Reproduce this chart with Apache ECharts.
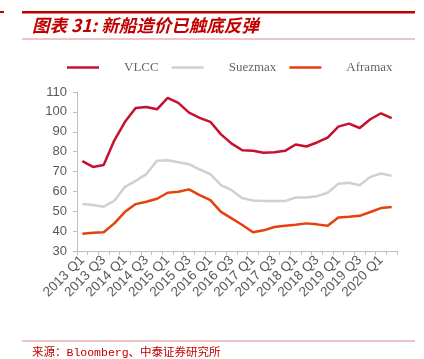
<!DOCTYPE html>
<html><head><meta charset="utf-8">
<script src="https://cdn.jsdelivr.net/npm/echarts@6/dist/echarts.min.js"></script>
<style>html,body{margin:0;padding:0;background:#fff}#c{width:424px;height:359px}</style>
</head><body><div id="c"></div>
<script>
var categories = [];
(function(){ for (var y = 2013; y <= 2020; y++) for (var q = 1; q <= 4; q++) { if (y === 2020 && q > 2) break; categories.push(y + ' Q' + q); } })();
var vlcc = [75.2,72.3,73.3,85.7,95,102,102.5,101.3,107,104.5,99.6,97,95,88.7,84,80.7,80.4,79.4,79.7,80.4,83.6,82.6,84.6,87.1,92.6,94.1,91.9,96.3,99.3,96.8];
var suezmax = [53.6,53.1,52.3,55.3,62.3,65.3,68.7,75.4,75.7,74.7,73.7,71,68.7,63.1,60.6,56.6,55.4,55.1,55.1,55.1,56.9,56.9,57.6,59.3,63.8,64.3,63.1,67.3,69,67.8];
var aframax = [38.7,39.2,39.4,43.9,49.7,53.6,54.8,56.3,59.3,59.8,61,58.1,55.6,49.7,46.4,43.1,39.4,40.4,42.1,42.7,43.2,43.9,43.4,42.7,46.9,47.2,47.7,49.6,51.6,52.1];
var seriesNames = ['VLCC','Suezmax','Aframax'];
var yTicks = {min:30, max:110, interval:10};
var titleText = '图表 31: 新船造价已触底反弹';
var sourceText = '来源：Bloomberg、中泰证券研究所';

var chart = echarts.init(document.getElementById('c'), null, {renderer:'canvas'});
var colors = ['#C8102E','#D0D0D0','#E5400E'];
function mk(name, data, i){
  return {name:name, type:'line', data:data, symbol:'none', smooth:false,
    lineStyle:{width:2.5, color:colors[i]}, itemStyle:{color:colors[i]}};
}
chart.setOption({
  animation:false,
  color: colors,
  graphic:[
    {type:'rect', shape:{x:0,y:11,width:4,height:2}, style:{fill:'#C00000'}},
    {type:'rect', shape:{x:22,y:11,width:393,height:2.5}, style:{fill:'#C00000'}},
    {type:'rect', shape:{x:22,y:38.5,width:393,height:1}, style:{fill:'#E08A8A'}},
    {type:'text', left:32, top:17, style:{text:titleText, fill:'#C00000', font:'italic bold 17.5px "Noto Sans CJK SC", sans-serif'}},
    {type:'rect', shape:{x:22,y:340.5,width:393,height:1}, style:{fill:'#E08A8A'}},
    {type:'text', left:32, top:347, style:{text:sourceText, fill:'#C00000', font:'11.5px "Liberation Mono", "Noto Sans CJK SC", monospace'}}
  ],
  legend:{
    data: seriesNames.map(function(n,i){ return {name:n, icon:'rect'}; }),
    left:62, top:56, itemWidth:32, itemHeight:2.5, itemGap:13,
    textStyle:{fontFamily:'"Liberation Serif", serif', fontSize:13, color:'#666', padding:[0,0,0,20]}
  },
  grid:{left:77, right:27, top:92, bottom:108, containLabel:false},
  xAxis:{
    type:'category', data:categories, boundaryGap:true,
    axisLine:{lineStyle:{color:'#BFBFBF', width:1}},
    axisTick:{show:true, interval:0, length:4, lineStyle:{color:'#BFBFBF'}},
    axisLabel:{interval:1, rotate:45, color:'#595959', fontSize:13.5, fontFamily:'"Liberation Sans", Arial, sans-serif', margin:7}
  },
  yAxis:{
    type:'value', min:yTicks.min, max:yTicks.max, interval:yTicks.interval,
    axisLine:{show:true, lineStyle:{color:'#BFBFBF', width:1}},
    axisTick:{show:true, length:4, inside:false, lineStyle:{color:'#BFBFBF'}},
    splitLine:{show:false},
    axisLabel:{color:'#595959', fontSize:13, fontFamily:'"Liberation Sans", Arial, sans-serif', margin:10}
  },
  series:[mk(seriesNames[0], vlcc, 0), mk(seriesNames[1], suezmax, 1), mk(seriesNames[2], aframax, 2)]
});
</script></body></html>
